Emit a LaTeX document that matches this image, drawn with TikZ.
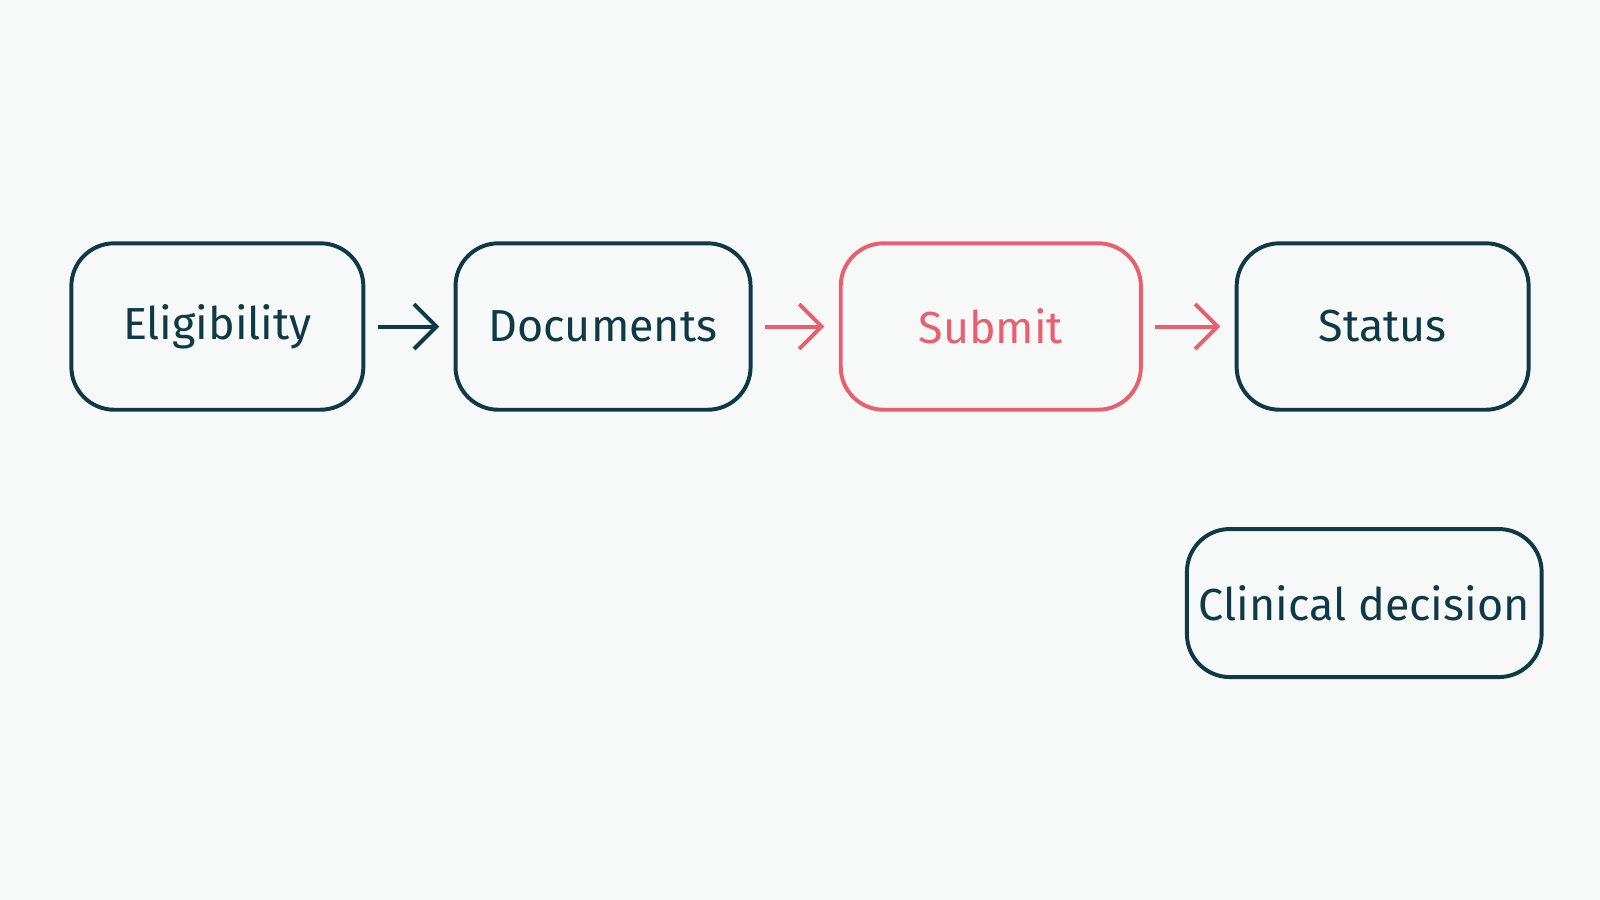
\documentclass[tikz,border=0pt]{standalone}
\usepackage{fontspec}
\setmainfont{Fira Sans}
\usetikzlibrary{arrows.meta, positioning}
\definecolor{ink}{HTML}{0F3A45}
\definecolor{accent}{HTML}{E8606E}
\definecolor{paper}{HTML}{F7F8F8}

\begin{document}
\begin{tikzpicture}[
    x=0.01cm, y=-0.01cm,
    font=\fontsize{12.5}{14}\selectfont,
    stepbox/.style={draw=ink, text=ink, line width=1.1pt, rounded corners=0.42cm, minimum width=2.86cm, minimum height=1.63cm, align=center},
    hotbox/.style={stepbox, draw=accent, text=accent},
    flow/.style={draw=ink, line width=1.1pt, -{Straight Barb[length=2.2mm, width=4.4mm]}, shorten <=0.12cm, shorten >=0.14cm},
    hotflow/.style={flow, draw=accent}
]
    \fill[paper] (0,0) rectangle (1568,882);

    % Steps
    \node[stepbox] (elig) at (213,320) {Eligibility};
    \node[stepbox, minimum width=2.89cm] (docs) at (591,320) {Documents};
    \node[hotbox, minimum width=2.94cm] (submit) at (971,320) {Submit};
    \node[stepbox] (status) at (1355,320) {Status};
    \node[stepbox, minimum width=3.38cm, minimum height=1.45cm] (clinical) at (1337,591) {Clinical decision};

    % Flow
    \draw[flow] (elig) -- (docs);
    \draw[hotflow] (docs) -- (submit);
    \draw[hotflow] (submit) -- (status);
\end{tikzpicture}
\end{document}
